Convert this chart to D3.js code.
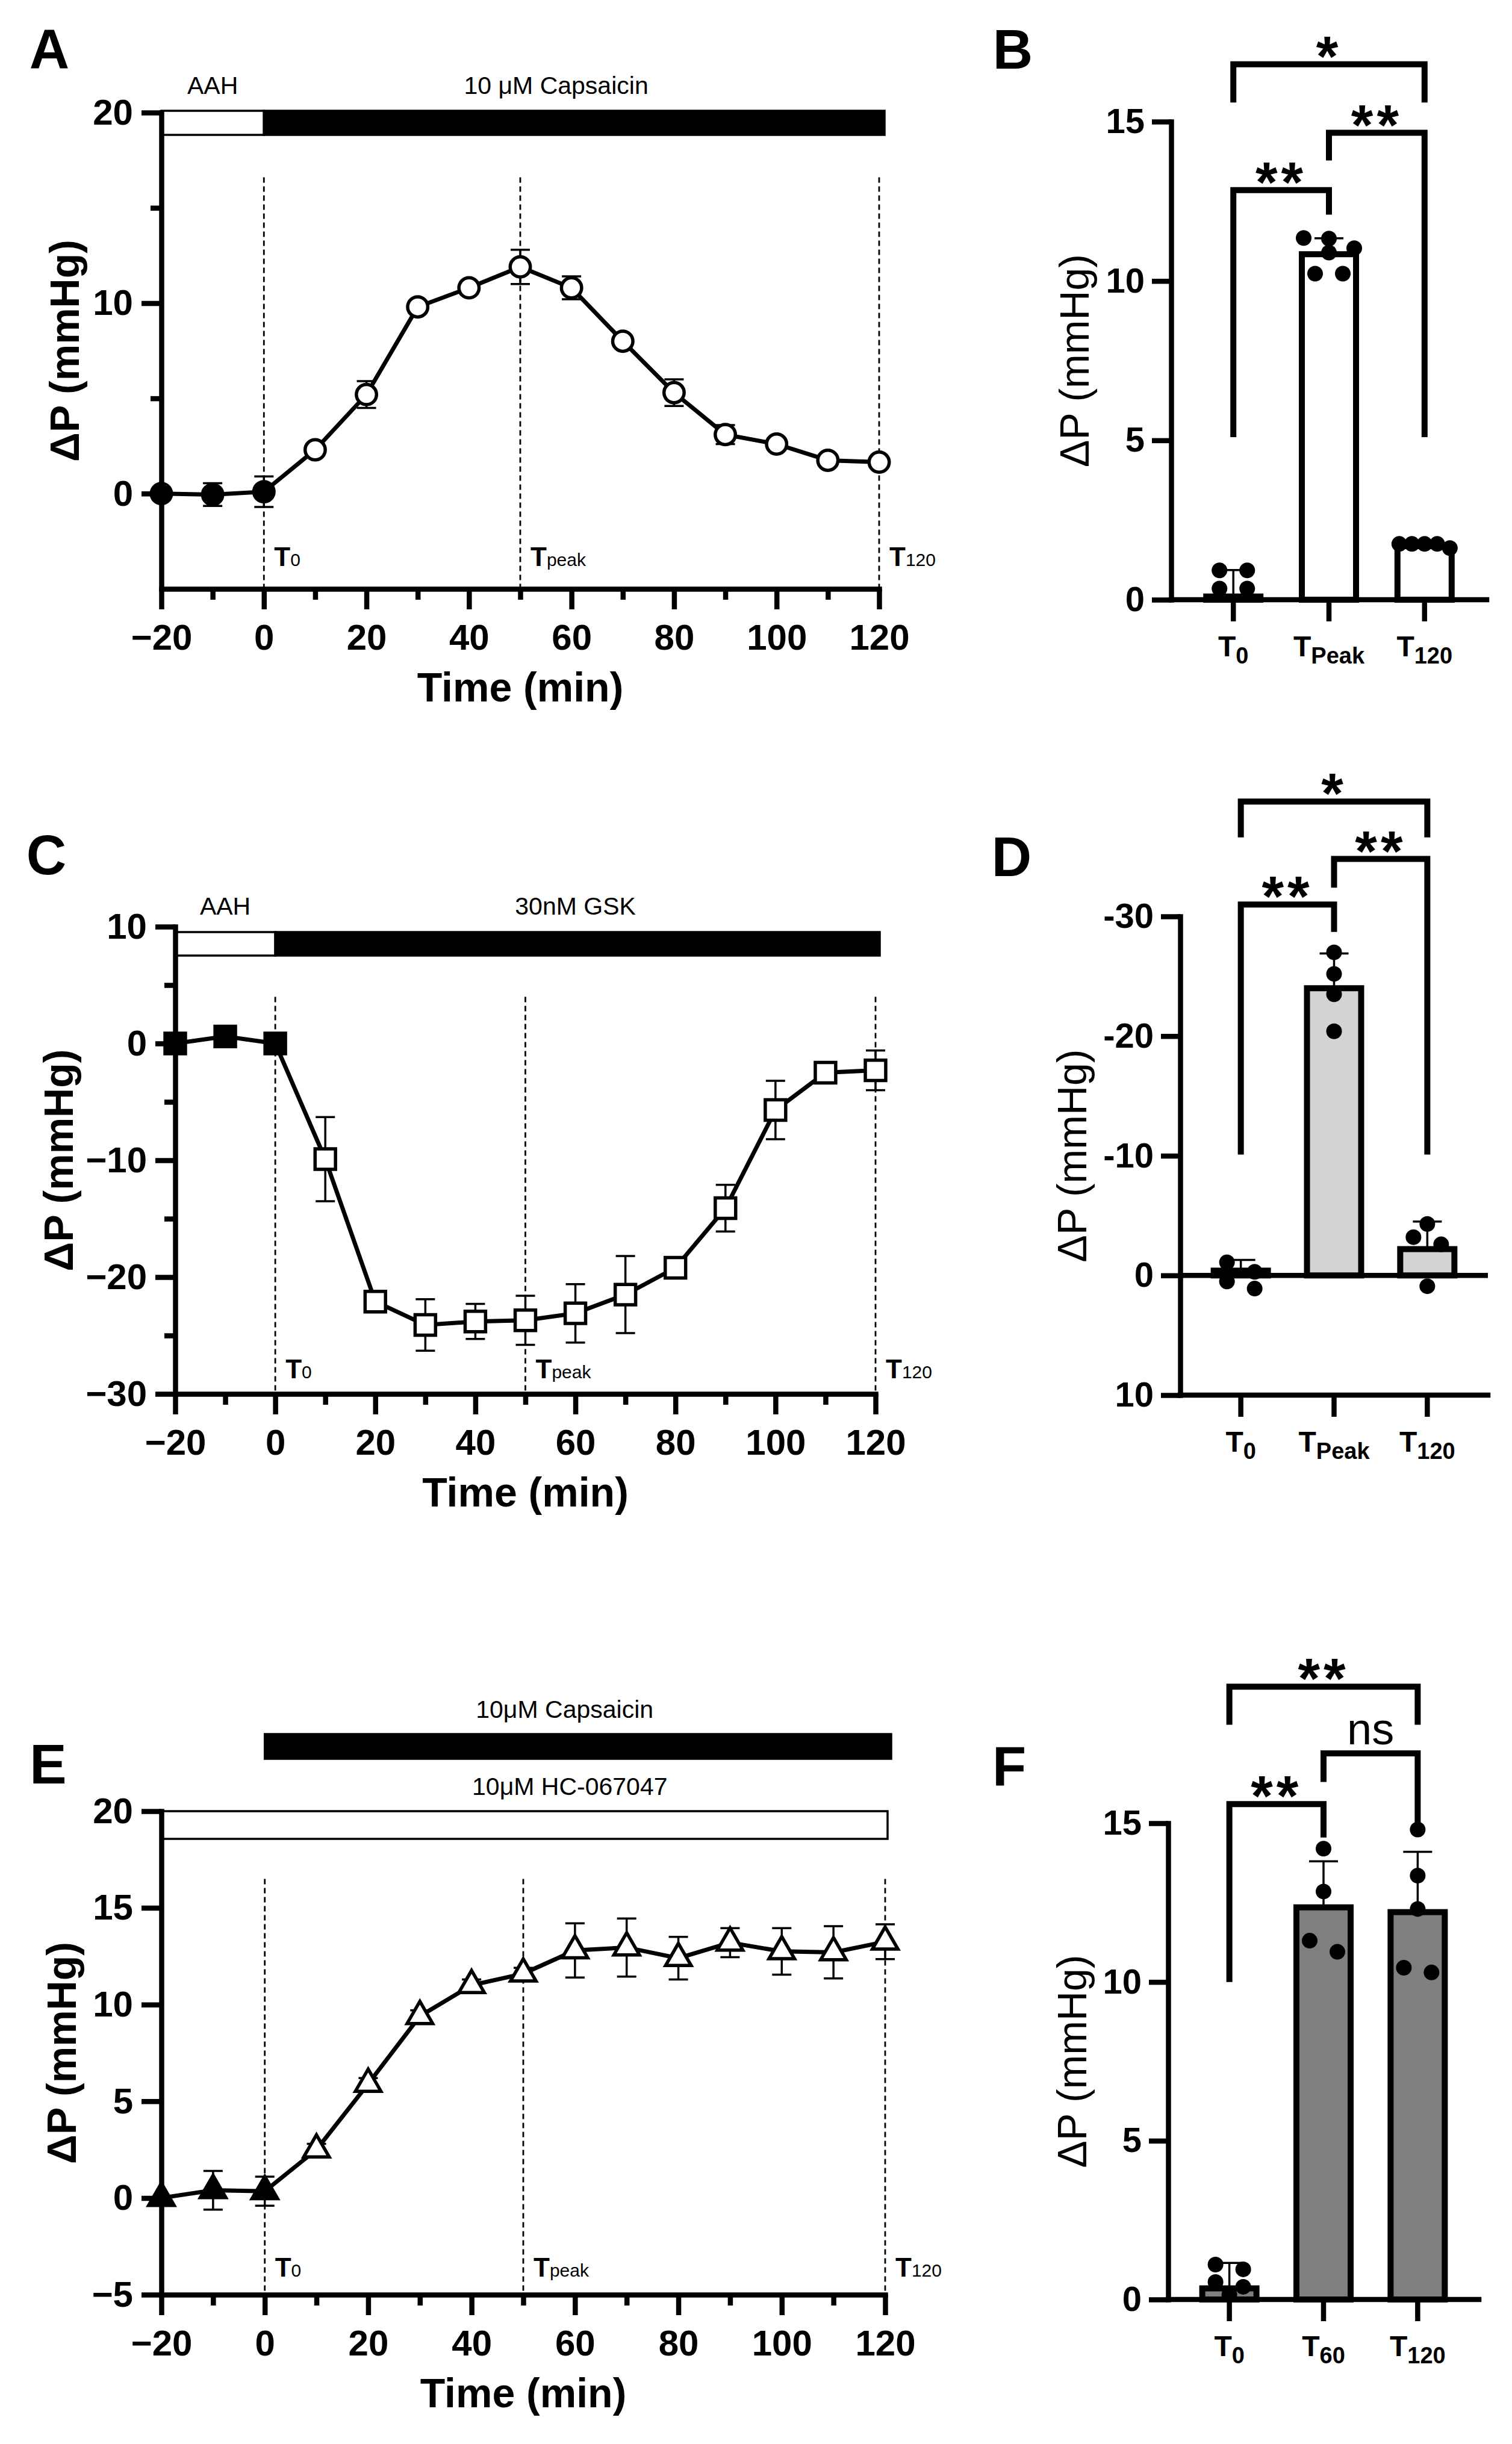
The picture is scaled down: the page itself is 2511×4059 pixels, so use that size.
<!DOCTYPE html>
<html>
<head>
<meta charset="utf-8">
<script src="https://cdn.jsdelivr.net/npm/d3@7"></script>
<style>
  body { margin: 0; background: #fff; }
  svg { display: block; font-family: "Liberation Sans", Arimo, Arial, sans-serif; }
</style>
</head>
<body>
<svg id="fig" width="2511" height="4059"></svg>
<script>
// ---- data ----
const timeMin = [-20, -10, 0, 10, 20, 30, 40, 50, 60, 70, 80, 90, 100, 110, 120];

// A: 10 uM capsaicin
const capsMean = [0, -0.05, 0.1, 2.3, 5.2, 9.8, 10.8, 11.9, 10.8, 8.0, 5.3, 3.1, 2.6, 1.75, 1.65];
const capsErr  = [0, 0.6, 0.8, 0.3, 0.7, 0.3, 0.3, 0.9, 0.6, 0.3, 0.7, 0.5, 0.3, 0.3, 0.3];

// C: 30 nM GSK
const gskMean = [0, 0.6, 0, -9.9, -22.1, -24.1, -23.8, -23.7, -23.1, -21.5, -19.2, -14.1, -5.7, -2.5, -2.3];
const gskErr  = [0.3, 0.3, 0.3, 3.6, 0.8, 2.2, 1.5, 2.1, 2.5, 3.3, 0.8, 2.0, 2.5, 0.6, 1.7];

// E: capsaicin + HC-067047
const hcMean = [0, 0.4, 0.35, 2.5, 5.9, 9.4, 11.0, 11.6, 12.8, 12.95, 12.4, 13.2, 12.75, 12.7, 13.25];
const hcErr  = [0, 1.0, 0.75, 0.3, 0.3, 0.3, 0.3, 0.3, 1.4, 1.5, 1.1, 0.75, 1.2, 1.35, 0.9];

// B
const subsB = ["0", "Peak", "120"];
const meanB = [0.1, 10.84, 1.68];
const sdB   = [0.83, 0.5, 0.05];
const ptsB  = [[0.92, 0.92, 0.35, 0.35], [11.03, 11.33, 11.35, 10.23, 10.23, 10.89], [1.75, 1.75, 1.75, 1.75, 1.62]];

// D
const subsD = ["0", "Peak", "120"];
const meanD = [-0.4, -24.0, -2.2];
const sdD   = [0.9, 2.9, 2.3];
const ptsD  = [[-0.3, -1.1, 1.1, 0.5], [-27.0, -25.2, -23.5, -20.4], [-3.2, -4.3, -2.6, 0.9]];

// F
const subsF = ["0", "60", "120"];
const meanF = [0.35, 12.35, 12.2];
const sdF   = [0.8, 1.45, 1.9];
const ptsF  = [[1.1, 0.95, 0.55, 0.4, 0.15], [14.2, 12.85, 10.95, 11.3], [14.8, 13.35, 12.3, 10.3, 10.45]];

const svg = d3.select("#fig");
svg.append("rect").attr("width", 2511).attr("height", 4059).attr("fill", "#fff");

function letter(t, cx, cy) {
  svg.append("text").attr("x", cx).attr("y", cy + 33).attr("text-anchor", "middle")
    .attr("font-size", 92).attr("font-weight", "bold").text(t);
}

function styleAxis(g, fs) {
  g.attr("font-family", null).attr("font-size", null);
  g.select(".domain").attr("stroke-width", 8.5).attr("stroke-linecap", "square");
  g.selectAll(".tick line").attr("stroke-width", 8.5);
  g.selectAll(".tick text").attr("font-size", fs).attr("font-weight", "bold").attr("fill", "#000");
}

// time-course panels (A, C, E)
function timeCourse(o) {
  const x = d3.scaleLinear().domain([-20, 120]).range([o.left, o.right]);
  const y = d3.scaleLinear().domain(o.yDomain).range([o.bottom, o.top]);
  const g = svg.append("g");

  // treatment bars
  o.bars.forEach(b => {
    g.append("rect").attr("x", x(b.from)).attr("y", b.y)
      .attr("width", x(b.to) - x(b.from) + b.extra).attr("height", b.h)
      .attr("fill", b.fill).attr("stroke", "#000").attr("stroke-width", 3.5);
  });
  o.labels.forEach(l => {
    g.append("text").attr("x", x(l.at)).attr("y", l.y).attr("text-anchor", "middle")
      .attr("font-size", 41).text(l.text);
  });

  // dashed time markers
  [[0, "0"], [50, "peak"], [120, "120"]].forEach(([t, s]) => {
    g.append("line").attr("x1", x(t)).attr("x2", x(t)).attr("y1", y(o.dashTop)).attr("y2", o.bottom)
      .attr("stroke", "#000").attr("stroke-width", 2.8).attr("stroke-dasharray", "9,6");
    const tx = g.append("text").attr("x", x(t) + 17).attr("y", o.tLabelY);
    tx.append("tspan").attr("font-size", 44).attr("font-weight", "bold").text("T");
    tx.append("tspan").attr("font-size", 30).text(s);
  });

  // axes
  const ya = g.append("g").attr("transform", `translate(${o.left},0)`)
    .call(d3.axisLeft(y).tickValues(o.yMajor).tickSize(33).tickSizeOuter(0).tickPadding(14));
  styleAxis(ya, 60);
  if (o.yMinor.length) {
    const ym = g.append("g").attr("transform", `translate(${o.left},0)`)
      .call(d3.axisLeft(y).tickValues(o.yMinor).tickSize(18).tickFormat(""));
    ym.select(".domain").remove();
    ym.selectAll(".tick line").attr("stroke-width", 8.5);
  }
  const xa = g.append("g").attr("transform", `translate(0,${o.bottom})`)
    .call(d3.axisBottom(x).tickValues(d3.range(-20, 121, 20)).tickSize(34).tickSizeOuter(0));
  styleAxis(xa, 60);
  xa.selectAll(".tick text").attr("y", 101).attr("dy", null);
  const xm = g.append("g").attr("transform", `translate(0,${o.bottom})`)
    .call(d3.axisBottom(x).tickValues(d3.range(-10, 121, 20)).tickSize(18).tickFormat(""));
  xm.select(".domain").remove();
  xm.selectAll(".tick line").attr("stroke-width", 8.5);

  g.append("text").attr("x", (o.left + o.right) / 2).attr("y", o.bottom + 187)
    .attr("text-anchor", "middle").attr("font-size", 68).attr("font-weight", "bold").text("Time (min)");
  g.append("text").attr("transform", `translate(${o.yLabelX},${(o.top + o.bottom) / 2}) rotate(-90)`)
    .attr("dy", "0.35em").attr("text-anchor", "middle").attr("font-size", 68).attr("font-weight", "bold")
    .text("ΔP (mmHg)");

  const data = timeMin.map((t, i) => ({ t, m: o.mean[i], e: o.err[i] }));

  // error bars
  const eb = g.selectAll(".eb").data(data.filter(d => d.e > 0)).enter().append("g")
    .attr("stroke", "#000").attr("stroke-width", 3.5);
  eb.append("line").attr("x1", d => x(d.t)).attr("x2", d => x(d.t))
    .attr("y1", d => y(d.m - d.e)).attr("y2", d => y(d.m + d.e));
  eb.append("line").attr("x1", d => x(d.t) - 16).attr("x2", d => x(d.t) + 16)
    .attr("y1", d => y(d.m + d.e)).attr("y2", d => y(d.m + d.e));
  eb.append("line").attr("x1", d => x(d.t) - 16).attr("x2", d => x(d.t) + 16)
    .attr("y1", d => y(d.m - d.e)).attr("y2", d => y(d.m - d.e));

  g.append("path").datum(data)
    .attr("d", d3.line().x(d => x(d.t)).y(d => y(d.m)))
    .attr("fill", "none").attr("stroke", "#000").attr("stroke-width", 7);

  const sym = d3.symbol().type(o.symbol).size(o.symSize);
  g.selectAll(".pt").data(data).enter().append("path")
    .attr("transform", d => `translate(${x(d.t)},${y(d.m)})`)
    .attr("d", sym)
    .attr("fill", d => d.t <= 0 ? "#000" : "#fff")
    .attr("stroke", "#000").attr("stroke-width", 5.5);
}

// place dots in rows, like a column scatter
function spreadRows(vals, y, cx, r) {
  const pts = vals.map(v => ({ v, y: y(v) })).sort((a, b) => a.y - b.y);
  const rows = [];
  pts.forEach(p => {
    const row = rows[rows.length - 1];
    if (row && Math.abs(p.y - row[0].y) < 1.5 * r) row.push(p); else rows.push([p]);
  });
  rows.forEach(row => {
    const step = row.length > 1 ? Math.min(46, 84 / (row.length - 1)) : 0;
    row.forEach((p, i) => p.x = cx + (i - (row.length - 1) / 2) * step);
  });
  return pts;
}

// bar panels (B, D, F)
function barPanel(o) {
  const n = o.mean.length;
  const x = d3.scalePoint().domain(d3.range(n)).range([o.left, o.right]).padding(0.65);
  const y = d3.scaleLinear().domain(o.yDomain).range([o.bottom, o.top]);
  const g = svg.append("g");
  const axisY = y(o.axisAt);
  const bw = 90;

  // bars
  g.selectAll(".bar").data(o.mean).enter().append("rect")
    .attr("x", (d, i) => x(i) - bw / 2).attr("width", bw)
    .attr("y", d => Math.min(y(0), y(d))).attr("height", d => Math.abs(y(d) - y(0)))
    .attr("fill", o.fill).attr("stroke", "#000").attr("stroke-width", 10);

  // axes
  const ya = g.append("g").attr("transform", `translate(${o.left},0)`)
    .call(d3.axisLeft(y).tickValues(o.ticks).tickFormat(o.fmt).tickSize(32).tickSizeOuter(0).tickPadding(12));
  styleAxis(ya, 58);
  if (o.zeroLine) {
    g.append("line").attr("x1", o.left).attr("x2", o.right).attr("y1", y(0)).attr("y2", y(0))
      .attr("stroke", "#000").attr("stroke-width", 8.5);
  }
  g.append("line").attr("x1", o.left).attr("x2", o.right).attr("y1", axisY).attr("y2", axisY)
    .attr("stroke", "#000").attr("stroke-width", 8.5).attr("stroke-linecap", "square");
  d3.range(n).forEach(i => {
    g.append("line").attr("x1", x(i)).attr("x2", x(i)).attr("y1", axisY).attr("y2", axisY + 36)
      .attr("stroke", "#000").attr("stroke-width", 8.5);
    const t = g.append("text").attr("x", x(i)).attr("y", axisY + 94).attr("text-anchor", "middle")
      .attr("font-weight", "bold");
    t.append("tspan").attr("font-size", 48).text("T");
    t.append("tspan").attr("font-size", 38).attr("dy", 12).text(o.subs[i]);
  });

  // SD error bars (away from zero)
  o.mean.forEach((m, i) => {
    const end = m + Math.sign(m || 1) * o.sd[i];
    g.append("line").attr("x1", x(i)).attr("x2", x(i)).attr("y1", y(m)).attr("y2", y(end))
      .attr("stroke", "#000").attr("stroke-width", 3.5);
    g.append("line").attr("x1", x(i) - 24).attr("x2", x(i) + 24).attr("y1", y(end)).attr("y2", y(end))
      .attr("stroke", "#000").attr("stroke-width", 3.5);
  });

  // individual points
  o.points.forEach((vals, i) => {
    g.selectAll(null).data(spreadRows(vals, y, x(i), 13)).enter().append("circle")
      .attr("cx", d => d.x).attr("cy", d => d.y).attr("r", 13).attr("fill", "#000");
  });

  // significance brackets
  o.brackets.forEach(b => {
    const ly = y(b.line);
    g.append("path")
      .attr("d", `M${x(b.a)},${y(b.legA)}V${ly}H${x(b.b)}V${y(b.legB)}`)
      .attr("fill", "none").attr("stroke", "#000").attr("stroke-width", 10);
    const stars = b.label !== "ns";
    g.append("text").attr("x", (x(b.a) + x(b.b)) / 2)
      .attr("y", ly - 34 + (stars ? 53 : 19))
      .attr("text-anchor", "middle")
      .attr("font-size", stars ? 94 : 74).attr("font-weight", stars ? "bold" : "normal")
      .attr("letter-spacing", stars ? 6 : 0)
      .text(b.label);
  });

  g.append("text").attr("transform", `translate(${o.yLabelX},${(o.top + o.bottom) / 2}) rotate(-90)`)
    .attr("dy", "0.35em").attr("text-anchor", "middle").attr("font-size", 68).text("ΔP (mmHg)");
}

// ---- panels ----
letter("A", 82, 80);
timeCourse({
  left: 268, right: 1460, top: 187, bottom: 978, yDomain: [-5, 20],
  yMajor: [0, 10, 20], yMinor: [5, 15], dashTop: 16.6, tLabelY: 940, yLabelX: 107,
  symbol: d3.symbolCircle, symSize: 880, mean: capsMean, err: capsErr,
  bars: [{ from: -20, to: 0, extra: 0, y: 184, h: 40, fill: "#fff" },
         { from: 0, to: 120, extra: 9, y: 184, h: 40, fill: "#000" }],
  labels: [{ text: "AAH", at: -10, y: 156 }, { text: "10 μM Capsaicin", at: 57, y: 156 }]
});

letter("B", 1682, 81);
barPanel({
  left: 1945, right: 2469, top: 202, bottom: 996, yDomain: [0, 15], ticks: [0, 5, 10, 15],
  fmt: d3.format("d"), axisAt: 0, fill: "#fff", subs: subsB, mean: meanB, sd: sdB, points: ptsB,
  yLabelX: 1784,
  brackets: [{ a: 0, b: 2, line: 16.8, legA: 15.6, legB: 15.6, label: "*" },
             { a: 1, b: 2, line: 14.65, legA: 13.78, legB: 5.1, label: "**" },
             { a: 0, b: 1, line: 12.85, legA: 5.1, legB: 12.08, label: "**" }]
});

letter("C", 77, 1419);
timeCourse({
  left: 291, right: 1454, top: 1539, bottom: 2315, yDomain: [-30, 10],
  yMajor: [-30, -20, -10, 0, 10], yMinor: [-25, -15, -5, 5], dashTop: 4, tLabelY: 2289, yLabelX: 97,
  symbol: d3.symbolSquare, symSize: 1150, mean: gskMean, err: gskErr,
  bars: [{ from: -20, to: 0, extra: 0, y: 1548, h: 39, fill: "#fff" },
         { from: 0, to: 120, extra: 7, y: 1548, h: 39, fill: "#000" }],
  labels: [{ text: "AAH", at: -10, y: 1519 }, { text: "30nM GSK", at: 60, y: 1519 }]
});

letter("D", 1680, 1422);
barPanel({
  left: 1960, right: 2471, top: 1522, bottom: 2317, yDomain: [10, -30], ticks: [-30, -20, -10, 0, 10],
  fmt: d => String(d), axisAt: 10, zeroLine: true, fill: "#d3d3d3", subs: subsD,
  mean: meanD, sd: sdD, points: ptsD, yLabelX: 1780,
  brackets: [{ a: 0, b: 2, line: -39.6, legA: -36.6, legB: -36.6, label: "*" },
             { a: 1, b: 2, line: -34.8, legA: -32.4, legB: -10.1, label: "**" },
             { a: 0, b: 1, line: -31.0, legA: -10.1, legB: -28.7, label: "**" }]
});

letter("E", 80, 2929);
timeCourse({
  left: 268, right: 1470, top: 3008, bottom: 3811, yDomain: [-5, 20],
  yMajor: [-5, 0, 5, 10, 15, 20], yMinor: [], dashTop: 16.5, tLabelY: 3781, yLabelX: 102,
  symbol: d3.symbolTriangle, symSize: 780, mean: hcMean, err: hcErr,
  bars: [{ from: 0, to: 120, extra: 10, y: 2880, h: 41, fill: "#000" },
         { from: -20, to: 120, extra: 4, y: 3008, h: 46, fill: "#fff" }],
  labels: [{ text: "10μM Capsaicin", at: 58, y: 2853 }, { text: "10μM HC-067047", at: 59, y: 2981 }]
});

letter("F", 1676, 2932);
barPanel({
  left: 1940, right: 2456, top: 3028, bottom: 3819, yDomain: [0, 15], ticks: [0, 5, 10, 15],
  fmt: d3.format("d"), axisAt: 0, fill: "#7f7f7f", subs: subsF, mean: meanF, sd: sdF, points: ptsF,
  yLabelX: 1780,
  brackets: [{ a: 0, b: 2, line: 19.3, legA: 18.1, legB: 18.1, label: "**" },
             { a: 1, b: 2, line: 17.2, legA: 16.3, legB: 14.9, label: "ns" },
             { a: 0, b: 1, line: 15.6, legA: 10.0, legB: 14.55, label: "**" }]
});
</script>
</body>
</html>
